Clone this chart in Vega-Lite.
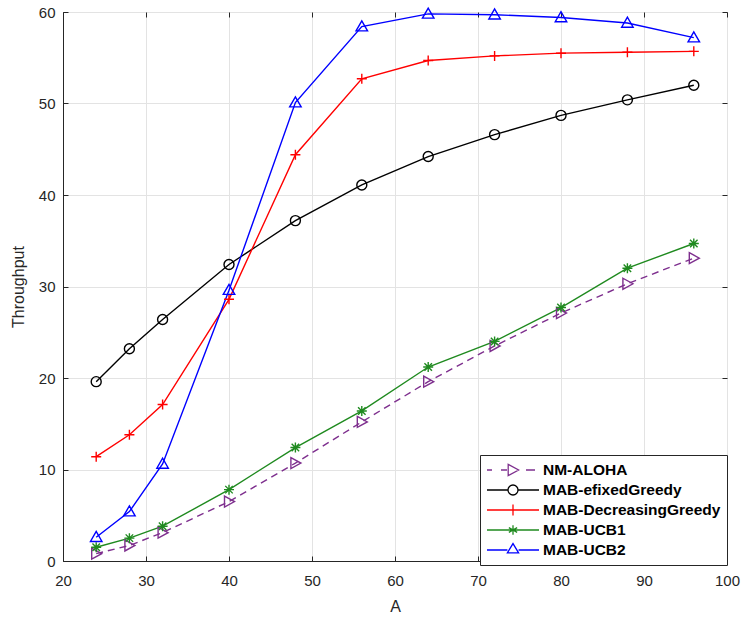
{
  "$schema": "https://vega.github.io/schema/vega-lite/v6.json",
  "width": 664,
  "height": 549,
  "autosize": "none",
  "padding": {"left": 63, "top": 12, "right": 15, "bottom": 56},
  "background": "white",
  "config": {
    "view": {"stroke": "#262626", "strokeWidth": 1},
    "font": "Liberation Sans",
    "axis": {
      "labelFont": "Liberation Sans",
      "labelFontSize": 15,
      "labelColor": "#262626",
      "labelFlush": false,
      "titleFont": "Liberation Sans",
      "titleFontSize": 16,
      "titleFontWeight": "normal",
      "titleColor": "#262626",
      "gridColor": "#e3e3e3",
      "gridWidth": 1,
      "domainColor": "#262626",
      "tickColor": "#262626"
    },
    "legend": {
      "orient": "none",
      "legendX": 417,
      "legendY": 443,
      "fillColor": "white",
      "strokeColor": "#262626",
      "padding": 6,
      "rowPadding": 2,
      "symbolSize": 256,
      "symbolStrokeWidth": 1.3,
      "symbolFillColor": "transparent",
      "labelOffset": 39,
      "labelFont": "Liberation Sans",
      "labelFontSize": 15.5,
      "labelFontWeight": "bold",
      "labelColor": "#000000",
      "labelLimit": 400
    }
  },
  "data": {
    "values": [
      {"A": 24, "s": "NM-ALOHA", "T": 0.8},
      {"A": 28, "s": "NM-ALOHA", "T": 1.7},
      {"A": 32, "s": "NM-ALOHA", "T": 3.1},
      {"A": 40, "s": "NM-ALOHA", "T": 6.5},
      {"A": 48, "s": "NM-ALOHA", "T": 10.7},
      {"A": 56, "s": "NM-ALOHA", "T": 15.2},
      {"A": 64, "s": "NM-ALOHA", "T": 19.6},
      {"A": 72, "s": "NM-ALOHA", "T": 23.5},
      {"A": 80, "s": "NM-ALOHA", "T": 27.1},
      {"A": 88, "s": "NM-ALOHA", "T": 30.3},
      {"A": 96, "s": "NM-ALOHA", "T": 33.1},
      {"A": 24, "s": "MAB-efixedGreedy", "T": 19.6},
      {"A": 28, "s": "MAB-efixedGreedy", "T": 23.2},
      {"A": 32, "s": "MAB-efixedGreedy", "T": 26.4},
      {"A": 40, "s": "MAB-efixedGreedy", "T": 32.4},
      {"A": 48, "s": "MAB-efixedGreedy", "T": 37.2},
      {"A": 56, "s": "MAB-efixedGreedy", "T": 41.1},
      {"A": 64, "s": "MAB-efixedGreedy", "T": 44.2},
      {"A": 72, "s": "MAB-efixedGreedy", "T": 46.6},
      {"A": 80, "s": "MAB-efixedGreedy", "T": 48.7},
      {"A": 88, "s": "MAB-efixedGreedy", "T": 50.4},
      {"A": 96, "s": "MAB-efixedGreedy", "T": 52.0},
      {"A": 24, "s": "MAB-DecreasingGreedy", "T": 11.4},
      {"A": 28, "s": "MAB-DecreasingGreedy", "T": 13.8},
      {"A": 32, "s": "MAB-DecreasingGreedy", "T": 17.1},
      {"A": 40, "s": "MAB-DecreasingGreedy", "T": 28.6},
      {"A": 48, "s": "MAB-DecreasingGreedy", "T": 44.4},
      {"A": 56, "s": "MAB-DecreasingGreedy", "T": 52.7},
      {"A": 64, "s": "MAB-DecreasingGreedy", "T": 54.7},
      {"A": 72, "s": "MAB-DecreasingGreedy", "T": 55.2},
      {"A": 80, "s": "MAB-DecreasingGreedy", "T": 55.5},
      {"A": 88, "s": "MAB-DecreasingGreedy", "T": 55.6},
      {"A": 96, "s": "MAB-DecreasingGreedy", "T": 55.7},
      {"A": 24, "s": "MAB-UCB1", "T": 1.5},
      {"A": 28, "s": "MAB-UCB1", "T": 2.5},
      {"A": 32, "s": "MAB-UCB1", "T": 3.8},
      {"A": 40, "s": "MAB-UCB1", "T": 7.8},
      {"A": 48, "s": "MAB-UCB1", "T": 12.4},
      {"A": 56, "s": "MAB-UCB1", "T": 16.4},
      {"A": 64, "s": "MAB-UCB1", "T": 21.2},
      {"A": 72, "s": "MAB-UCB1", "T": 24.0},
      {"A": 80, "s": "MAB-UCB1", "T": 27.7},
      {"A": 88, "s": "MAB-UCB1", "T": 32.0},
      {"A": 96, "s": "MAB-UCB1", "T": 34.7},
      {"A": 24, "s": "MAB-UCB2", "T": 2.6},
      {"A": 28, "s": "MAB-UCB2", "T": 5.4},
      {"A": 32, "s": "MAB-UCB2", "T": 10.6},
      {"A": 40, "s": "MAB-UCB2", "T": 29.6},
      {"A": 48, "s": "MAB-UCB2", "T": 50.1},
      {"A": 56, "s": "MAB-UCB2", "T": 58.4},
      {"A": 64, "s": "MAB-UCB2", "T": 59.8},
      {"A": 72, "s": "MAB-UCB2", "T": 59.7},
      {"A": 80, "s": "MAB-UCB2", "T": 59.4},
      {"A": 88, "s": "MAB-UCB2", "T": 58.8},
      {"A": 96, "s": "MAB-UCB2", "T": 57.2}
    ]
  },
  "encoding": {
    "x": {"field": "A", "type": "quantitative", "axis": null},
    "y": {"field": "T", "type": "quantitative", "axis": null},
    "color": {
      "field": "s", "type": "nominal",
      "scale": {
        "domain": ["NM-ALOHA", "MAB-efixedGreedy", "MAB-DecreasingGreedy", "MAB-UCB1", "MAB-UCB2"],
        "range": ["#7E2F8E", "#000000", "#FF0000", "#1F8A1F", "#0000FF"]
      },
      "legend": {"title": null}
    }
  },
  "layer": [
    {
      "transform": [{"filter": "datum.s !== 'NM-ALOHA'"}],
      "mark": {"type": "line", "strokeWidth": 1.4},
      "encoding": {
        "x": {
          "field": "A", "type": "quantitative",
          "scale": {"domain": [20, 100], "nice": false, "zero": false},
          "axis": {"orient": "bottom", "values": [20, 30, 40, 50, 60, 70, 80, 90, 100], "title": "A", "tickSize": -5, "labelPadding": 17, "titlePadding": 10, "grid": true}
        },
        "y": {
          "field": "T", "type": "quantitative",
          "scale": {"domain": [0, 60], "nice": false},
          "axis": {"orient": "left", "values": [0, 10, 20, 30, 40, 50, 60], "title": "Throughput", "tickSize": -5, "labelPadding": 13, "titlePadding": 12, "grid": true}
        }
      }
    },
    {
      "transform": [{"filter": "datum.s === 'NM-ALOHA'"}],
      "mark": {"type": "line", "strokeWidth": 1.4, "strokeDash": [7, 5]}
    },
    {
      "mark": {"type": "point", "filled": false, "opacity": 0},
      "encoding": {
        "shape": {
          "field": "s", "type": "nominal",
          "scale": {
            "domain": ["NM-ALOHA", "MAB-efixedGreedy", "MAB-DecreasingGreedy", "MAB-UCB1", "MAB-UCB2"],
            "range": [
              "M-1,0H-0.375M0.75,0H1.5M1.65,-0.7L2.95,0L1.65,0.7ZM3.875,0H5",
              "M-1,0H1.625M2.875,0H5.5M1.625,0A0.625,0.625,0,1,0,2.875,0A0.625,0.625,0,1,0,1.625,0",
              "M-1,0H5.5M2.25,-0.7V0.7",
              "M-1,0H5.5M2.25,-0.6V0.6M1.73,-0.3L2.77,0.3M1.73,0.3L2.77,-0.3",
              "M-1,0H1.55M2.95,0H5.5M1.55,0.35L2.95,0.35L2.25,-0.8Z"
            ]
          },
          "legend": {"title": null}
        }
      }
    },
    {
      "transform": [{"filter": "datum.s === 'NM-ALOHA'"}],
      "mark": {"type": "point", "filled": false, "strokeWidth": 1.4, "size": 100, "opacity": 1, "shape": "M-0.9,-1.1L1.1,0L-0.9,1.1Z"},
      "encoding": {
        "x": {
          "field": "A", "type": "quantitative",
          "axis": {"orient": "top", "values": [20, 30, 40, 50, 60, 70, 80, 90, 100], "labels": false, "title": null, "domain": false, "grid": false, "tickSize": -5}
        },
        "y": {
          "field": "T", "type": "quantitative",
          "axis": {"orient": "right", "values": [0, 10, 20, 30, 40, 50, 60], "labels": false, "title": null, "domain": false, "grid": false, "tickSize": -5}
        }
      }
    },
    {
      "transform": [{"filter": "datum.s === 'MAB-efixedGreedy'"}],
      "mark": {"type": "point", "filled": false, "strokeWidth": 1.4, "size": 100, "opacity": 1, "shape": "circle"}
    },
    {
      "transform": [{"filter": "datum.s === 'MAB-DecreasingGreedy'"}],
      "mark": {"type": "point", "filled": false, "strokeWidth": 1.4, "size": 100, "opacity": 1, "shape": "M-1,0H1M0,-1V1"}
    },
    {
      "transform": [{"filter": "datum.s === 'MAB-UCB1'"}],
      "mark": {"type": "point", "filled": false, "strokeWidth": 1.4, "size": 100, "opacity": 1, "shape": "M-1,0H1M0,-1V1M-0.75,-0.75L0.75,0.75M-0.75,0.75L0.75,-0.75"}
    },
    {
      "transform": [{"filter": "datum.s === 'MAB-UCB2'"}],
      "mark": {"type": "point", "filled": false, "strokeWidth": 1.4, "size": 100, "opacity": 1, "shape": "M-1.15,0.85L1.15,0.85L0,-1.15Z"}
    }
  ],
  "resolve": {"axis": {"x": "independent", "y": "independent"}}
}
